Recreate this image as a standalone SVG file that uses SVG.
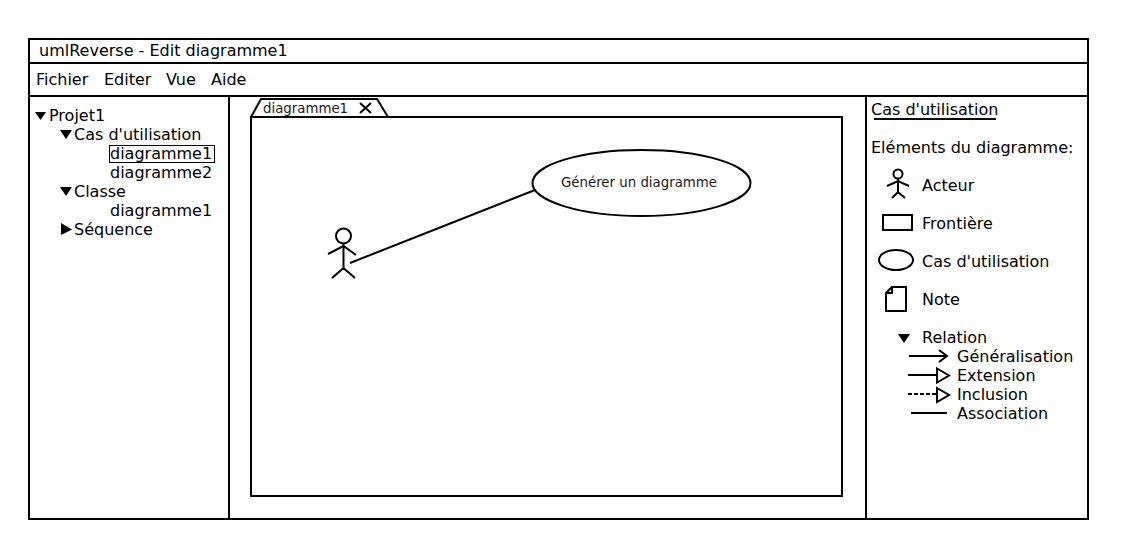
<svg xmlns="http://www.w3.org/2000/svg" width="1132" height="554" viewBox="0 0 1132 554">
<style>
text{font-family:"DejaVu Sans",sans-serif;font-size:16px;fill:#000}
.s{font-size:13.330px;fill:#1a1a1a}
.g{font-size:13.330px;fill:#1a1a1a}
.l{fill:none;stroke:#000;stroke-width:2}
.f{fill:#000;stroke:none}
</style>
<rect width="1132" height="554" fill="#fff"/>
<g id="window">
<rect class="l" x="29" y="39" width="1059" height="480"/>
<path class="l" d="M29 63H1088M29 96H1088M229 96V519M866 96V519"/>
<text x="39" y="56">umlReverse - Edit diagramme1</text>
<text x="36" y="85">Fichier</text><text x="104" y="85">Editer</text><text x="166" y="85">Vue</text><text x="211" y="85">Aide</text>
</g>
<g id="tree">
<path class="f" d="M35 112H46L40.500 120ZM60 130H72L66 139ZM60 187H72L66 196ZM61 223V235L72 229.500Z"/>
<text x="49" y="121">Projet1</text>
<text x="74" y="140">Cas d'utilisation</text>
<rect x="109.500" y="145.500" width="105" height="17" fill="none" stroke="#000" stroke-width="1"/>
<text x="110" y="159">diagramme1</text>
<text x="110" y="178">diagramme2</text>
<text x="74" y="197">Classe</text>
<text x="110" y="216">diagramme1</text>
<text x="74" y="235">Séquence</text>
</g>
<g id="canvas">
<rect class="l" x="251" y="117" width="591" height="379"/>
<path class="l" d="M251 117L261 99H377L388 117"/>
<text class="s" x="263" y="113">diagramme1</text>
<path class="l" d="M360 103L371 113M371 103L360 113"/>
</g>
<g id="actor">
<circle class="l" cx="343.500" cy="236" r="7.500"/>
<path class="l" d="M343.500 244V270M328 254L343.500 246L356 255M332 278L343.500 268L355 278"/>
</g>
<g id="usecase">
<ellipse class="l" cx="641.500" cy="183" rx="109" ry="33"/>
<text class="g" x="561" y="187">Générer un diagramme</text>
</g>
<g id="connectors">
<path class="l" d="M350 263L535 190"/>
</g>
<g id="palette">
<text x="871" y="115">Cas d'utilisation</text>
<path class="l" d="M874 119H996"/>
<text x="871" y="153">Eléments du diagramme:</text>
<g id="pal-acteur">
<circle class="l" cx="898" cy="174" r="4.500"/>
<path class="l" d="M898 179V192M887 186L898 181L909 186M892 198L898 192L905 198"/>
<text x="922" y="191">Acteur</text>
</g>
<g id="pal-frontiere">
<rect class="l" x="883" y="215" width="29" height="15"/>
<text x="922" y="229">Frontière</text>
</g>
<g id="pal-cas">
<ellipse class="l" cx="896" cy="260" rx="17" ry="10"/>
<text x="922" y="267">Cas d'utilisation</text>
</g>
<g id="pal-note">
<path class="l" d="M892 287H906V311H886V293ZM886 293H892V287"/>
<text x="922" y="305">Note</text>
</g>
<g id="pal-relation">
<path class="f" d="M898 334H910L904 343Z"/>
<text x="922" y="343">Relation</text>
<path class="l" d="M909 356H946M939 350L947 356L939 362"/>
<text x="957" y="362">Généralisation</text>
<path class="l" d="M908 375H937M937 368.500L949 375.500L937 382.500Z"/>
<text x="957" y="381">Extension</text>
<path class="l" d="M908 394H937" stroke-dasharray="4 2"/>
<path class="l" d="M937 388L949 395L937 402Z"/>
<text x="957" y="400">Inclusion</text>
<path class="l" d="M911 413H947"/>
<text x="957" y="419">Association</text>
</g>
</g>
</svg>
